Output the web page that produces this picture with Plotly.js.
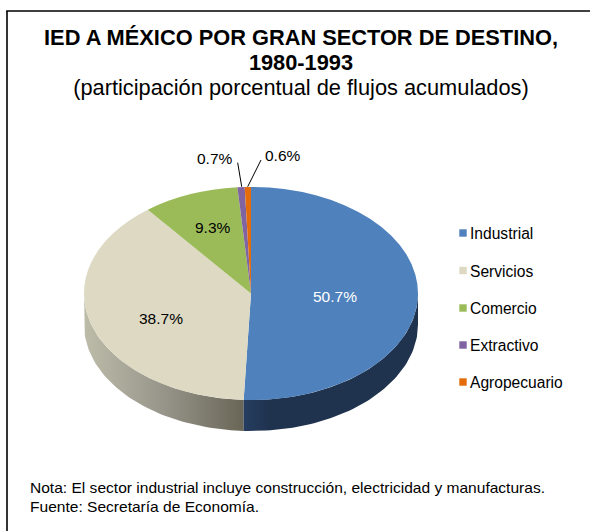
<!DOCTYPE html>
<html>
<head>
<meta charset="utf-8">
<script src="https://cdn.plot.ly/plotly-3.0.1.min.js"></script>
<style>html,body{margin:0;padding:0;background:#fff}#chart{width:590px;height:531px}</style>
</head>
<body>
<div id="chart"></div>
<script>
const categories = ['Industrial', 'Servicios', 'Comercio', 'Extractivo', 'Agropecuario'];
const shares = [50.7, 38.7, 9.3, 0.7, 0.6];
const colors = ['#4F81BD', '#DDD9C3', '#9BBB59', '#8064A2', '#E46C0A'];
const titleLine1 = 'IED A MÉXICO POR GRAN SECTOR DE DESTINO,';
const titleLine2 = '1980-1993';
const subtitle = '(participación porcentual de flujos acumulados)';
const noteLines = ['Nota: El sector industrial incluye construcción, electricidad y manufacturas.', 'Fuente: Secretaría de Economía.'];

const W = 590, H = 531, FONT = '"Liberation Sans", Arial, sans-serif';
const cx = 251, cy = 293.5, rx = 167, ry = 106.5, depth = 31;
const total = shares.reduce((a, b) => a + b, 0);
const pct = v => (v / total * 100).toFixed(1) + '%';

// Side wall of the disc, derived from the shares: outline between two clockwise angles
function wall(fromDeg, toDeg) {
  const xs = [], ys = [];
  const n = 60;
  for (let i = 0; i <= n; i++) {
    const a = (fromDeg + (toDeg - fromDeg) * i / n) * Math.PI / 180;
    xs.push(cx + rx * Math.sin(a)); ys.push(cy - ry * Math.cos(a));
  }
  for (let i = n; i >= 0; i--) {
    const a = (fromDeg + (toDeg - fromDeg) * i / n) * Math.PI / 180;
    xs.push(cx + rx * Math.sin(a)); ys.push(cy - ry * Math.cos(a) + depth);
  }
  return {xs, ys};
}
const boundary = shares[0] / total * 360;
const wallBlue = wall(90, boundary);
const wallBeige = wall(boundary, 270);

const traces = [
  {type: 'scatter', mode: 'lines', x: wallBeige.xs, y: wallBeige.ys, fill: 'toself', line: {width: 0},
   fillgradient: {type: 'horizontal', colorscale: [[0, '#BDBCA9'], [0.5, '#97958A'], [1, '#696657']]},
   showlegend: false, hoverinfo: 'skip'},
  {type: 'scatter', mode: 'lines', x: wallBlue.xs, y: wallBlue.ys, fill: 'toself', line: {width: 0},
   fillgradient: {type: 'horizontal', colorscale: [[0, '#263D60'], [0.15, '#1F334F'], [1, '#1F334F']]},
   showlegend: false, hoverinfo: 'skip'},
  {type: 'pie', labels: categories, values: shares, sort: false, direction: 'clockwise', rotation: 0,
   marker: {colors: colors, line: {width: 0}}, textinfo: 'none', hoverinfo: 'label+percent',
   domain: {x: [(cx - rx) / W, (cx + rx) / W], y: [1 - (cy + rx) / H, 1 - (cy - rx) / H]}}
];

const label = (text, x, y, color) => ({text, x, y, xref: 'x', yref: 'y', showarrow: false, xanchor: 'center', yanchor: 'middle',
  font: {family: FONT, size: 15.5, color: color || '#000'}});

const layout = {
  width: W, height: H, margin: {l: 0, r: 0, t: 0, b: 0}, paper_bgcolor: '#fff', plot_bgcolor: '#fff',
  title: {text: '<b>' + titleLine1 + '<br>' + titleLine2 + '</b><br>' + subtitle,
    font: {family: FONT, size: 21.8, color: '#000'}, x: 301 / W, xanchor: 'center', y: 1 - 45 / H, yanchor: 'top', xref: 'paper', yref: 'paper', automargin: false},
  xaxis: {range: [0, W], visible: false, fixedrange: true},
  yaxis: {range: [H, 0], visible: false, fixedrange: true},
  showlegend: true,
  legend: {x: 430 / W, xanchor: 'left', y: 1 - 220 / H, yanchor: 'top', font: {family: FONT, size: 15.6, color: '#000'}, traceorder: 'normal', bgcolor: 'rgba(0,0,0,0)'},
  shapes: [
    {type: 'line', xref: 'paper', yref: 'paper', x0: 7 / W, x1: 7 / W, y0: 0, y1: 1 - 11 / H, line: {color: '#000', width: 1.6}},
    {type: 'line', xref: 'paper', yref: 'paper', x0: 6.2 / W, x1: 1, y0: 1 - 11 / H, y1: 1 - 11 / H, line: {color: '#000', width: 1.6}},
    {type: 'line', xref: 'x', yref: 'y', x0: 237.7, y0: 162.7, x1: 241.7, y1: 186.7, line: {color: '#000', width: 1}},
    {type: 'line', xref: 'x', yref: 'y', x0: 261, y0: 160, x1: 247.7, y1: 186.7, line: {color: '#000', width: 1}}
  ],
  annotations: [
    label(pct(shares[0]), 335.3, 296, '#fff'),
    label(pct(shares[1]), 160.7, 318.3),
    label(pct(shares[2]), 213.3, 227.3),
    label(pct(shares[3]), 215.3, 158.3),
    label(pct(shares[4]), 283.3, 155),
    {text: noteLines.join('<br>'), xref: 'paper', yref: 'paper', x: 28 / W, y: 1 - 477 / H, xanchor: 'left', yanchor: 'top', align: 'left', showarrow: false,
     font: {family: FONT, size: 15.55, color: '#000'}}
  ]
};

Plotly.newPlot('chart', traces, layout, {displayModeBar: false, responsive: false}).then(gd => {
  // Flatten the circular pie into the tilted ellipse
  const s = ry / rx;
  gd.querySelectorAll('.pielayer').forEach(g => g.setAttribute('transform', `translate(0,${cy}) scale(1,${s}) translate(0,${-cy})`));
  // Legend rows spaced as in the reference
  const rows = [233, 270.5, 308, 345, 382];
  const ly = 220;
  const sb = gd.querySelector('.legend .scrollbox');
  if (sb) sb.removeAttribute('clip-path');
  gd.querySelectorAll('.legend .traces').forEach((t, i) => {
    t.setAttribute('transform', `translate(0,${rows[i] - ly})`);
    const p = t.querySelector('.legendpie');
    if (p) { p.setAttribute('d', 'M3.7,3.7H-3.7V-3.7H3.7Z'); p.setAttribute('transform', 'translate(33,0)'); p.style.strokeWidth = 0; }
  });
  // Title line pitch
  gd.querySelectorAll('.gtitle tspan.line').forEach((t, i) => {
    if (i > 0) t.setAttribute('dy', (25 * i) + 'px');
  });
  // Note line pitch
  const noteT = [...gd.querySelectorAll('.annotation-text')].find(t => t.textContent.startsWith('Nota'));
  if (noteT) noteT.querySelectorAll('tspan.line').forEach((t, i) => { if (i > 0) t.setAttribute('dy', (19 * i) + 'px'); });
});
</script>
</body>
</html>
